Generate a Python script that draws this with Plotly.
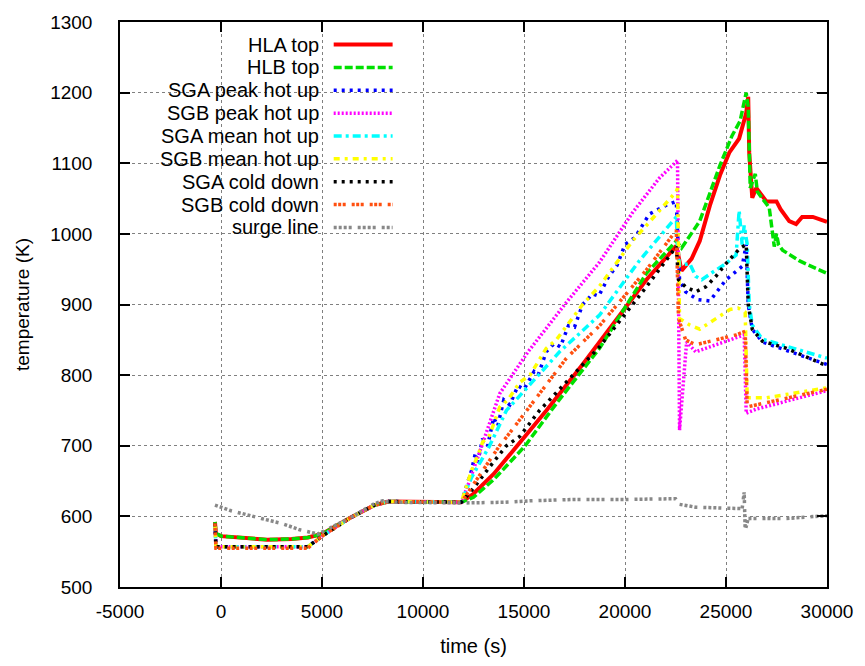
import plotly.graph_objects as go

# ---------------- data ----------------
hla_t = [-300, -250, 0, 1200, 2300, 3500, 4300, 5000, 6400, 7600, 8300, 11900, 12500, 13500, 14630, 16110, 17900, 19380, 21060, 22540,
         22800, 23300, 23700, 24200, 24700, 25160, 25650, 26000, 26100, 26150, 26300, 26500, 27000, 27500, 27700, 28130, 28470, 28770, 29300, 30000]
hla_T = [592, 576, 572, 569, 567, 568, 570, 575, 598, 616, 621, 620, 632, 660, 699, 750, 815, 871, 935, 983,
         948, 965, 990, 1040, 1083, 1115, 1135, 1171, 1194, 1115, 1051, 1065, 1046, 1046, 1035, 1018, 1014, 1024, 1024, 1017]

hlb_t = [-300, -250, 0, 1200, 2300, 3500, 4300, 5000, 6400, 7600, 8300, 11900, 12500, 13500, 15030, 16610, 18740, 21060, 22540,
         22800, 23300, 23700, 24700, 25300, 25700, 26000, 26100, 26200, 26450, 26550, 26800, 27140, 27390, 27500, 27600, 27800, 28620, 30000]
hlb_T = [592, 576, 572, 569, 567, 568, 570, 575, 598, 616, 621, 620, 627, 652, 699, 760, 838, 944, 990,
         980, 1000, 1018, 1097, 1139, 1160, 1200, 1180, 1065, 1085, 1060, 1050, 1037, 982, 1000, 985, 977, 962, 944]

sga_peak_t = [-300, -250, 0, 4300, 5000, 6400, 7600, 8300, 11900, 12400, 12600, 12700, 12950, 13200, 13500, 13700, 14000, 14300, 14700, 15000,
              15500, 15700, 16100, 16500, 16800, 17200, 17500, 17900, 18400, 18700, 19200, 19600, 20000, 20500, 21200, 22000, 22540,
              22600, 22700, 23000, 23600, 24200, 25000, 25800, 26000, 26100, 26300, 26800, 28000, 30000]
sga_peak_T = [590, 557, 557, 557, 572, 598, 616, 621, 620, 665, 690, 675, 710, 700, 740, 728, 765, 758, 785, 780,
              805, 800, 833, 845, 840, 870, 868, 900, 915, 912, 940, 955, 985, 995, 1028, 1040, 1046,
              1000, 935, 918, 907, 905, 935, 954, 985, 900, 865, 847, 835, 815]

sgb_peak_t = [-300, -250, 0, 4300, 5000, 6400, 7600, 8300, 11900, 12300, 12900, 13800, 15200, 17100, 18740, 20370, 21700, 22600,
              22700, 22800, 23050, 23500, 24500, 25900, 26000, 26500, 30000]
sgb_peak_T = [590, 557, 557, 557, 572, 598, 616, 621, 620, 650, 699, 774, 833, 903, 960, 1030, 1079, 1104,
              722, 760, 847, 833, 843, 857, 746, 752, 778]

sga_mean_t = [-300, -250, 0, 4300, 5000, 6400, 7600, 8300, 11900, 12400, 13300, 14130, 15400, 16760, 18740, 20710, 22540,
              22600, 22700, 23200, 23500, 23800, 24300, 25000, 25500, 25650, 25800, 25900, 26050, 26150, 26300, 26800, 30000]
sga_mean_T = [590, 557, 557, 557, 572, 598, 616, 621, 620, 655, 700, 750, 790, 833, 885, 962, 1024,
              980, 955, 958, 940, 935, 945, 958, 970, 1033, 985, 1012, 985, 900, 871, 851, 824]

sgb_mean_t = [-300, -250, 0, 4300, 5000, 6400, 7600, 8300, 11900, 12400, 12700, 12950, 13300, 13800, 14200, 14800, 15300, 16100, 16600,
              17900, 18740, 19500, 20370, 21000, 21700, 22540, 22600,
              22700, 23200, 23700, 24500, 25200, 25600, 25950, 26050, 27000, 30000]
sgb_mean_T = [590, 557, 557, 557, 572, 598, 616, 621, 620, 665, 685, 705, 715, 755, 765, 790, 800, 838, 850,
              900, 926, 955, 990, 1010, 1032, 1060, 1065,
              880, 871, 865, 880, 893, 895, 889, 768, 768, 782]

sga_cold_t = [-300, -250, 0, 4300, 5000, 6400, 7600, 8300, 11900, 12500, 13300, 14130, 14780, 15770, 18740, 21060, 22540,
              22650, 23000, 23500, 24000, 24500, 25000, 25700, 26000, 26100, 26300, 26800, 28000, 30000]
sga_cold_T = [590, 557, 557, 557, 572, 598, 616, 621, 620, 640, 670, 700, 713, 750, 840, 925, 982,
              935, 925, 918, 925, 940, 958, 980, 985, 900, 865, 848, 838, 813]

sgb_cold_t = [-300, -250, 0, 4300, 5000, 6400, 7600, 8300, 11900, 12500, 13200, 13790, 14290, 17100, 18740, 21060, 22540,
              22650, 23000, 23500, 24500, 25500, 25950, 26050, 30000]
sgb_cold_T = [590, 555, 555, 555, 572, 598, 616, 621, 620, 645, 675, 700, 718, 824, 870, 949, 1005,
              880, 850, 843, 850, 857, 862, 755, 780]

surge_t = [-300, 500, 2000, 3000, 3900, 4300, 4800, 6400, 7600, 8000, 8400, 12000, 14000, 15300, 17500, 20000, 22500,
           22700, 23500, 25800, 25900, 25950, 26100, 28000, 30000]
surge_T = [616, 608, 597, 590, 581, 578, 575, 598, 618, 622, 620, 619, 620, 622, 624, 624, 625,
           617, 613, 611, 634, 580, 597, 597, 601]

names = ["HLA top", "HLB top", "SGA peak hot up", "SGB peak hot up", "SGA mean hot up",
         "SGB mean hot up", "SGA cold down", "SGB cold down", "surge line"]

x_ticks = [-5000, 0, 5000, 10000, 15000, 20000, 25000, 30000]
y_ticks = [500, 600, 700, 800, 900, 1000, 1100, 1200, 1300]

series = [(hla_t, hla_T), (hlb_t, hlb_T), (sga_peak_t, sga_peak_T), (sgb_peak_t, sgb_peak_T),
          (sga_mean_t, sga_mean_T), (sgb_mean_t, sgb_mean_T), (sga_cold_t, sga_cold_T),
          (sgb_cold_t, sgb_cold_T), (surge_t, surge_T)]

# ---------------- styles ----------------
FONT = "Liberation Sans, Arial, sans-serif"
colors = ["#ff0000", "#00e000", "#0000ff", "#ff00ff", "#00ffff", "#ffff00", "#000000", "#ff5010", "#888888"]
dashes = ["solid", "8px,3px", "3px,5px", "2px,2px", "8px,4px,3px,4px", "6px,5px,3px,5px",
          "3px,5px", "3px,1.5px,3px,1.5px,3px,6px", "3px,2px,3px,2px,3px,2px,3px,6px"]
widths = [4, 3.5, 3.5, 3.5, 3.5, 3.5, 3.5, 3.5, 3.5]

fig = go.Figure()
for (t, T), name, c, d, w in zip(series, names, colors, dashes, widths):
    fig.add_trace(go.Scatter(x=t, y=T, mode="lines", name=name,
                             line=dict(color=c, dash=d, width=w), showlegend=False))

# ---------------- manual gnuplot-style legend ----------------
L, R, TOP, BOT = 120, 828, 14, 590
W, H = R - L, BOT - TOP
def px2x(p): return (p - L) / W
def py2y(p): return (BOT - p) / H

shapes = [dict(type="rect", xref="paper", yref="paper", x0=0, x1=px2x(407), y0=py2y(237), y1=1,
               fillcolor="white", line=dict(width=0), layer="between")]
annotations = []
for i, (name, c, d, w) in enumerate(zip(names, colors, dashes, widths)):
    yy = py2y(37 + 23.3 * i)
    annotations.append(dict(xref="paper", yref="paper", x=px2x(321), y=yy, text=name, showarrow=False,
                            xanchor="right", yanchor="middle",
                            font=dict(family=FONT, size=20, color="black")))
    shapes.append(dict(type="line", xref="paper", yref="paper", x0=px2x(334), x1=px2x(393), y0=yy, y1=yy,
                       line=dict(color=c, dash=d, width=w), layer="above"))

axis_common = dict(showline=True, linecolor="black", linewidth=1.5, mirror="ticks", ticks="inside",
                   ticklen=10, tickwidth=1.5, tickcolor="black", showgrid=True, gridcolor="#808080",
                   griddash="dot", gridwidth=1, zeroline=False,
                   tickfont=dict(family=FONT, size=19, color="black"))

fig.update_layout(
    width=865, height=666,
    margin=dict(l=L, r=865 - R, t=TOP, b=666 - BOT),
    paper_bgcolor="white", plot_bgcolor="white",
    shapes=shapes, annotations=annotations,
    xaxis=dict(range=[-5000, 30000], tickvals=x_ticks, ticktext=[str(v) for v in x_ticks],
               title=dict(text="time (s)", standoff=18,
                          font=dict(family=FONT, size=20, color="black")),
               ticklabelstandoff=6, **axis_common),
    yaxis=dict(range=[500, 1300], tickvals=y_ticks, ticktext=[str(v) for v in y_ticks],
               title=dict(text="temperature (K)", standoff=16,
                          font=dict(family=FONT, size=19, color="black")),
               ticklabelstandoff=22, **axis_common),
)

fig.write_html("out.html")
